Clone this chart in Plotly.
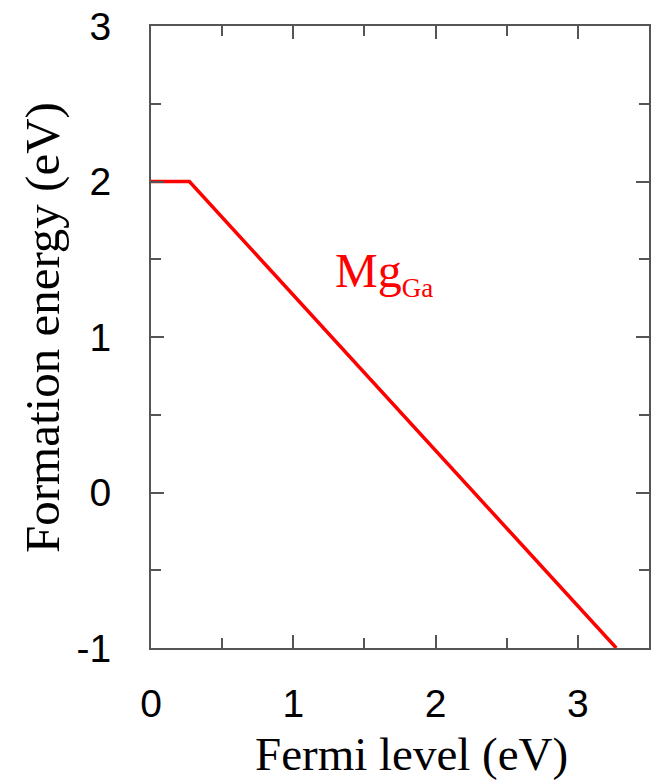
import plotly.graph_objects as go

# Data
fermi_level = [0.0, 0.27, 3.27]
formation_energy = [2.0, 2.0, -1.0]
x_tick_vals = [0, 1, 2, 3]
x_tick_text = ["0", "1", "2", "3"]
y_tick_vals = [-1, 0, 1, 2, 3]
y_tick_text = ["-1", "0", "1", "2", "3"]
label_pos = (1.28, 1.41)

axis_color = "#555555"
sans = "Liberation Sans, Arial, sans-serif"
serif = "Liberation Serif, Times New Roman, serif"

fig = go.Figure()
fig.add_trace(go.Scatter(
    x=fermi_level, y=formation_energy, mode="lines",
    line=dict(color="#ff0000", width=3.5), showlegend=False, hoverinfo="skip"))

common = dict(
    showline=True, linecolor=axis_color, linewidth=2, mirror="ticks",
    ticks="inside", ticklen=13, tickwidth=2, tickcolor=axis_color,
    showgrid=False, zeroline=False,
    tickfont=dict(family=sans, size=39, color="#000000"),
)

fig.update_xaxes(range=[0, 3.5], tickvals=x_tick_vals, ticktext=x_tick_text,
                 minor=dict(ticks="inside", ticklen=10, tickwidth=2, tickcolor=axis_color, dtick=0.5, tick0=0, showgrid=False),
                 ticklabelstandoff=20, **common)
fig.update_yaxes(range=[-1, 3], tickvals=y_tick_vals, ticktext=y_tick_text,
                 minor=dict(ticks="inside", ticklen=10, tickwidth=2, tickcolor=axis_color, dtick=0.5, tick0=0, showgrid=False),
                 ticklabelstandoff=30, **common)

fig.add_annotation(x=label_pos[0], y=label_pos[1], xref="x", yref="y",
                   text='Mg<sub><span style="font-size:27px">Ga</span></sub>',
                   showarrow=False, xanchor="left", yanchor="middle",
                   font=dict(family=serif, size=48, color="#ff0000"))

fig.add_annotation(x=0.524, y=-0.170, xref="paper", yref="paper",
                   text="Fermi level (eV)", showarrow=False,
                   xanchor="center", yanchor="middle",
                   font=dict(family=serif, size=47, color="#000000"))
fig.add_annotation(x=-0.219, y=0.516, xref="paper", yref="paper",
                   text="Formation energy (eV)", showarrow=False, textangle=-90,
                   xanchor="center", yanchor="middle",
                   font=dict(family=serif, size=49, color="#000000"))

fig.update_layout(
    width=654, height=780,
    margin=dict(l=151, r=5, t=26, b=132, autoexpand=False),
    plot_bgcolor="white", paper_bgcolor="white",
)

fig.write_html("out.html")
